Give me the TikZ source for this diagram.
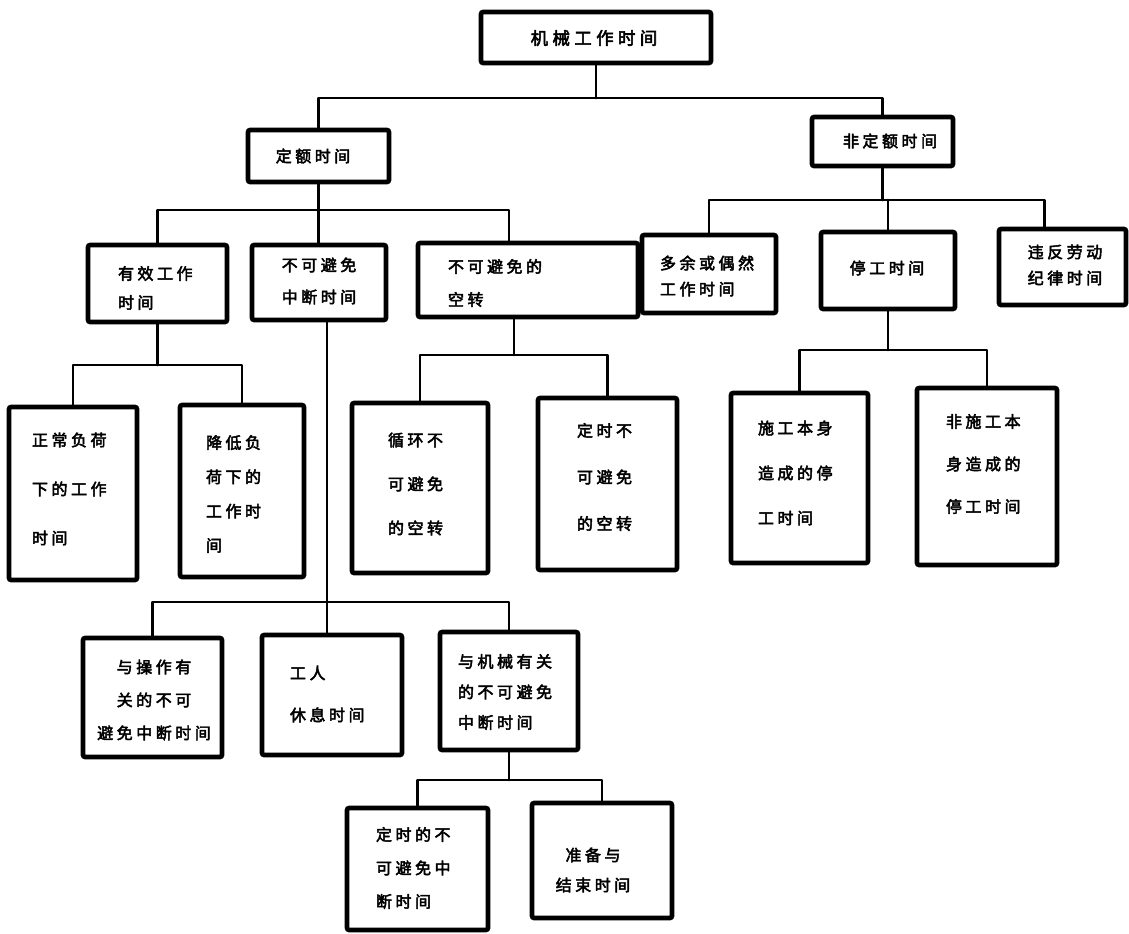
\documentclass[tikz,border=0pt]{standalone}
\usepackage{fontspec}
\setmainfont{Noto Sans CJK SC}[FakeBold=3,LetterSpace=22]
\usetikzlibrary{fit}
\newcommand\fsz[1]{\fontsize{12pt}{#1pt}\selectfont}
\tikzset{
  bx/.style={draw, line width=3.4pt, rounded corners=1.5pt, inner sep=0pt, outer sep=0pt, rectangle},
  conn/.style={line width=2.2pt, line cap=round, line join=round},
  lbl/.style={inner sep=0pt, outer sep=0pt},
}
\begin{document}
\begin{tikzpicture}[x=0.75pt,y=-0.75pt]
\useasboundingbox (0,0) rectangle (1129,933);
% boxes
\node[bx, fit={(481,12) (711,63)}] (root) {};
\node[bx, fit={(248,130) (389,182)}] (dinge) {};
\node[bx, fit={(812,117) (953,166)}] (feid) {};
\node[bx, fit={(88,245) (227,322)}] (yx) {};
\node[bx, fit={(252,245) (386,320)}] (zd) {};
\node[bx, fit={(418,243) (638,317)}] (kz) {};
\node[bx, fit={(642,235) (776,313)}] (dy) {};
\node[bx, fit={(821,232) (955,309)}] (tg) {};
\node[bx, fit={(999,229) (1126,305)}] (wf) {};
\node[bx, fit={(9,407) (137,580)}] (zc) {};
\node[bx, fit={(180,405) (304,577)}] (jd) {};
\node[bx, fit={(352,403) (488,573)}] (xh) {};
\node[bx, fit={(538,398) (677,570)}] (ds) {};
\node[bx, fit={(731,393) (868,563)}] (sg) {};
\node[bx, fit={(917,388) (1057,565)}] (fsg) {};
\node[bx, fit={(83,638) (222,757)}] (cz) {};
\node[bx, fit={(262,635) (402,755)}] (gr) {};
\node[bx, fit={(440,632) (578,750)}] (jx) {};
\node[bx, fit={(347,808) (488,930)}] (dsd) {};
\node[bx, fit={(532,803) (672,918)}] (zb) {};
% labels
\node[lbl, font={\fontsize{13pt}{16pt}\selectfont\addfontfeature{LetterSpace=26}}] at (594,38) {机械工作时间};
\node[lbl, font=\fsz{20}] at (313,156) {定额时间};
\node[lbl, font=\fsz{20}] at (890,141) {非定额时间};
\node[lbl, anchor=west, align=left, font=\fsz{21.75}] at (118,288) {有效工作\\时间};
\node[lbl, align=center, font=\fsz{24}] at (319,281) {不可避免\\中断时间};
\node[lbl, anchor=west, align=left, font=\fsz{24.75}] at (448,283) {不可避免的\\空转};
\node[lbl, anchor=west, align=left, font=\fsz{19.5}] at (660,276) {多余或偶然\\工作时间};
\node[lbl, font=\fsz{20}] at (887,268) {停工时间};
\node[lbl, align=center, font=\fsz{19.5}] at (1065,265) {违反劳动\\纪律时间};
\node[lbl, anchor=west, align=left, font=\fsz{36.75}] at (32,489) {正常负荷\\下的工作\\时间};
\node[lbl, anchor=west, align=left, font=\fsz{25.7}] at (206,494) {降低负\\荷下的\\工作时\\间};
\node[lbl, anchor=west, align=left, font=\fsz{33}] at (388,484) {循环不\\可避免\\的空转};
\node[lbl, anchor=west, align=left, font=\fsz{34.9}] at (577,477) {定时不\\可避免\\的空转};
\node[lbl, anchor=west, align=left, font=\fsz{33.75}] at (758,473) {施工本身\\造成的停\\工时间};
\node[lbl, anchor=west, align=left, font=\fsz{31.9}] at (946,464) {非施工本\\身造成的\\停工时间};
\node[lbl, align=center, font=\fsz{24.75}] at (154,700) {与操作有\\关的不可\\避免中断时间};
\node[lbl, anchor=west, align=left, font=\fsz{31.5}] at (290,694) {工人\\休息时间};
\node[lbl, anchor=west, align=left, font=\fsz{22.9}] at (458,692) {与机械有关\\的不可避免\\中断时间};
\node[lbl, anchor=west, align=left, font=\fsz{25.1}] at (376,868) {定时的不\\可避免中\\断时间};
\node[lbl, align=center, font=\fsz{22.5}] at (593,870) {准备与\\结束时间};
% junction levels
\coordinate (j0) at (0,98);
\coordinate (j1) at (0,210);
\coordinate (j2) at (0,200);
\coordinate (j3) at (0,365);
\coordinate (j4) at (0,355);
\coordinate (j5) at (0,350);
\coordinate (j6) at (0,602);
\coordinate (j7) at (0,780);
\coordinate (kzt) at ([xshift=-14.25pt]kz.north);
\coordinate (kzb) at ([xshift=-10.5pt]kz.south);
\coordinate (wft) at ([xshift=-13.5pt]wf.north);
\coordinate (zdb) at ([xshift=6pt]zd.south);
% connectors
\draw[conn] (root.south) -- (root.south |- j0);
\draw[conn] (dinge.north) |- (feid.north |- j0) -- (feid.north);
\draw[conn] (dinge.south) -- (dinge.south |- zd.north);
\draw[conn] (yx.north) |- (kzt |- j1) -- (kzt);
\draw[conn] (feid.south) -- (feid.south |- j2);
\draw[conn] (dy.north) |- (wft |- j2) -- (wft);
\draw[conn] (tg.north |- j2) -- (tg.north);
\draw[conn] (yx.south) -- (yx.south |- j3);
\draw[conn] (zc.north) |- (jd.north |- j3) -- (jd.north);
\draw[conn] (kzb) -- (kzb |- j4);
\draw[conn] (xh.north) |- (ds.north |- j4) -- (ds.north);
\draw[conn] (tg.south) -- (tg.south |- j5);
\draw[conn] (sg.north) |- (fsg.north |- j5) -- (fsg.north);
\draw[conn] (zdb) -- (zdb |- gr.north);
\draw[conn] (cz.north) |- (jx.north |- j6) -- (jx.north);
\draw[conn] (jx.south) -- (jx.south |- j7);
\draw[conn] (dsd.north) |- (zb.north |- j7) -- (zb.north);
\end{tikzpicture}
\end{document}
